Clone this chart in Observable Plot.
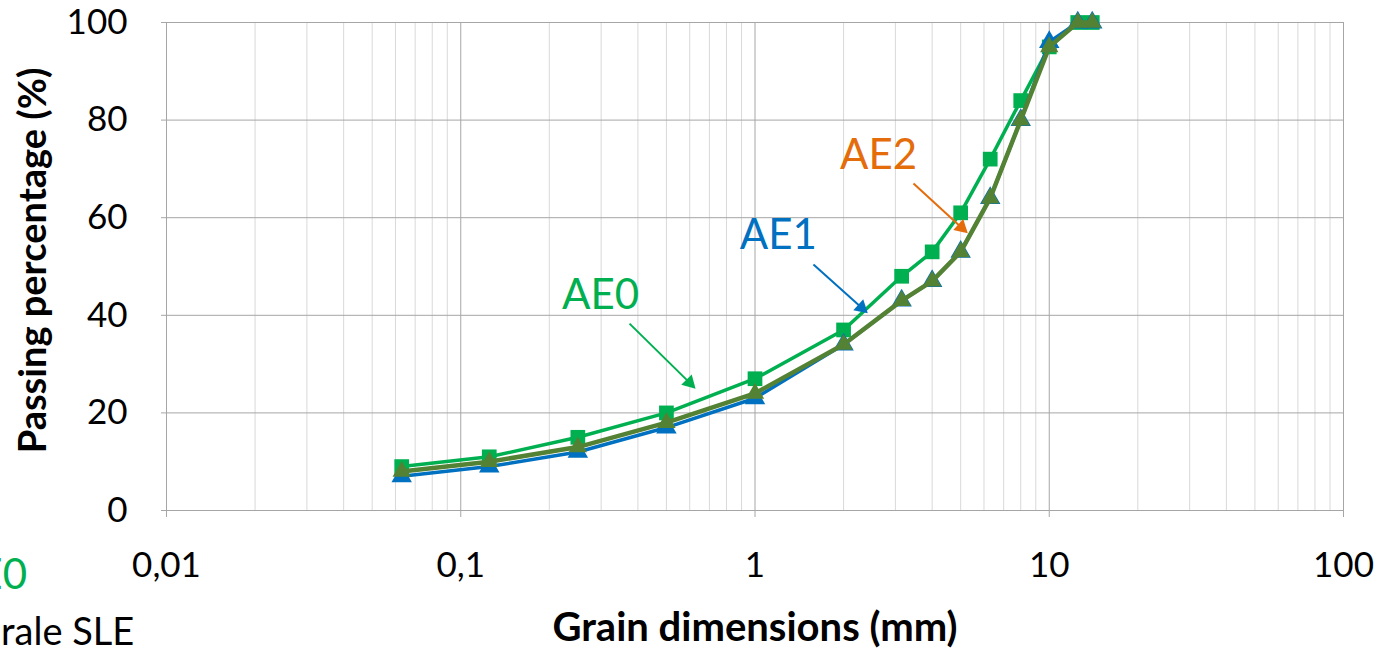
<!DOCTYPE html>
<html>
<head>
<meta charset="utf-8">
<script src="https://cdn.jsdelivr.net/npm/d3@7"></script>
<script src="https://cdn.jsdelivr.net/npm/@observablehq/plot@0.6"></script>
<style>
  html, body { margin: 0; padding: 0; background: #fff; }
  #wrap { position: relative; width: 1393px; height: 650px; overflow: hidden; font-family: Lato, "Open Sans", sans-serif; }
  #wrap svg { position: absolute; left: 0; top: 0; }
  .side { position: absolute; white-space: nowrap; line-height: 1; }
</style>
</head>
<body>
<div id="wrap">
  <div class="side" id="sideA" style="right:1366px; top:552px; font-size:42px; color:#00B050;">AE0</div>
  <div class="side" id="sideB" style="left:1px; top:611px; font-size:38px; color:#000;">rale SLE</div>
</div>
<script>
// ---- data ----
const sieve = [0.063, 0.125, 0.25, 0.5, 1, 2, 3.15, 4, 5, 6.3, 8, 10, 12.5, 14];
const ae0 = [9, 11, 15, 20, 27, 37, 48, 53, 61, 72, 84, 95, 100, 100];
const ae1 = [7, 9, 12, 17, 23, 34, 43, 47, 53, 64, 80, 96, 100, 100];
const ae2 = [8, 10, 13, 18, 24, 34, 43, 47, 53, 64, 80, 95, 100, 100];

const xDecades = [0.01, 0.1, 1, 10, 100];
const xTickLabels = ["0,01", "0,1", "1", "10", "100"];
const yTicks = [0, 20, 40, 60, 80, 100];

const annoLabels = ["AE0", "AE1", "AE2"];
const annoX = [0.2985, 1.20, 2.63];
const annoY = [44.1, 56.4, 72.7];
const arrowX1 = [0.3746, 1.580, 3.457];
const arrowY1 = [38.3, 50.4, 67.0];
const arrowX2 = [0.599, 2.30, 5.03];
const arrowY2 = [26.2, 41.6, 58.0];
const arrowAngle = [135, 132, 132];
const annoColors = ["#00B050", "#0070C0", "#E46C0A"];

const seriesNames = ["AE0", "AE1", "AE2"];
const seriesColors = ["#00B050", "#0070C0", "#548235"];

// ---- tables ----
const rows = (vals, name) => sieve.map((s, i) => ({size: s, pass: vals[i], series: name}));
const d0 = rows(ae0, "AE0"), d1 = rows(ae1, "AE1"), d2 = rows(ae2, "AE2");
const anno = annoLabels.map((t, i) => ({t, x: annoX[i], y: annoY[i], x1: arrowX1[i], y1: arrowY1[i], x2: arrowX2[i], y2: arrowY2[i], a: arrowAngle[i], c: annoColors[i]}));
const minor = [];
for (let k = 0; k < xDecades.length - 1; k++) for (let m = 2; m <= 9; m++) minor.push(xDecades[k] * m);
const xTickRows = xDecades.map((v, i) => ({v, label: xTickLabels[i]}));

const chart = Plot.plot({
  width: 1393,
  height: 650,
  marginLeft: 166,
  marginRight: 50,
  marginTop: 22,
  marginBottom: 140,
  x: {type: "log", domain: [0.01, 100], axis: null},
  y: {domain: [0, 100], axis: null},
  style: {fontFamily: "Lato, 'Open Sans', sans-serif", color: "#000", background: "transparent", overflow: "visible"},
  marks: [
    Plot.ruleX(minor, {stroke: "#d9d9d9", strokeWidth: 1}),
    Plot.ruleX(xDecades, {stroke: "#a6a6a6", strokeWidth: 1}),
    Plot.ruleY(yTicks, {stroke: "#a6a6a6", strokeWidth: 1}),
    // x axis ticks + labels
    Plot.ruleX(xTickRows, {x: "v", y1: 0, y2: 0, insetBottom: -7, stroke: "#a6a6a6"}),
    Plot.text(xTickRows, {x: "v", text: "label", frameAnchor: "bottom", dy: 55, fontSize: 35, fill: "#000", lineAnchor: "middle"}),
    // y axis ticks + labels
    Plot.ruleY(yTicks, {x1: 0.01, x2: 0.01, insetLeft: -5, stroke: "#a6a6a6"}),
    Plot.text(yTicks, {y: d => d, text: d => String(d), frameAnchor: "left", dx: -39, textAnchor: "end", fontSize: 35, fill: "#000"}),
    Plot.text(["Passing percentage (%)"], {frameAnchor: "left", dx: -133, dy: -6, rotate: -90, textAnchor: "middle", fontSize: 38, fontWeight: "bold", fill: "#000"}),
    Plot.text(["Grain dimensions (mm)"], {frameAnchor: "bottom", dy: 130, textAnchor: "middle", fontSize: 40, fontWeight: "bold", fill: "#000"}),
    // series
    Plot.line(d0, {x: "size", y: "pass", stroke: seriesColors[0], strokeWidth: 3.5}),
    Plot.dot(d0, {x: "size", y: "pass", symbol: "square", r: 8.3, fill: seriesColors[0], stroke: "none"}),
    Plot.line(d1, {x: "size", y: "pass", stroke: seriesColors[1], strokeWidth: 3.5}),
    Plot.dot(d1, {x: "size", y: "pass", symbol: "triangle", r: 7.6, fill: seriesColors[1], stroke: "none"}),
    Plot.line(d2, {x: "size", y: "pass", stroke: seriesColors[2], strokeWidth: 4.5}),
    Plot.dot(d2, {x: "size", y: "pass", symbol: "triangle", r: 6.8, fill: seriesColors[2], stroke: "none"}),
    // annotations
    Plot.link(anno, {x1: "x1", y1: "y1", x2: "x2", y2: "y2", stroke: "c", strokeWidth: 2}),
    Plot.dot(anno, {x: "x2", y: "y2", symbol: "triangle", r: 5.5, rotate: "a", fill: "c", stroke: "none"}),
    Plot.text(anno, {x: "x", y: "y", text: "t", fill: "c", fontSize: 42})
  ]
});
document.getElementById("wrap").prepend(chart);
</script>
</body>
</html>
